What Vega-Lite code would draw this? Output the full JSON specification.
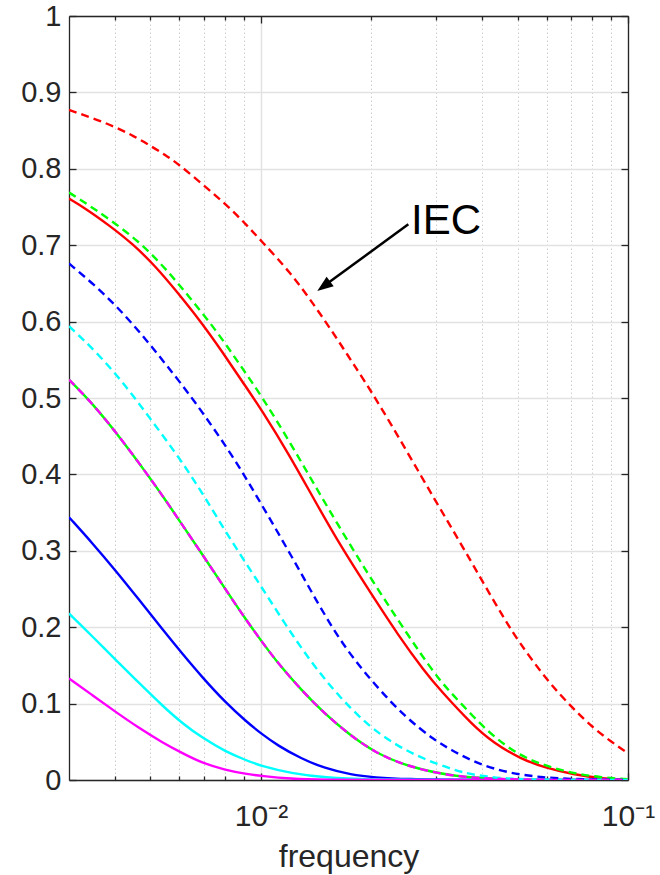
{
  "$schema": "https://vega.github.io/schema/vega-lite/v6.json",
  "width": 559,
  "height": 764,
  "autosize": {"type": "none"},
  "padding": {"left": 69, "top": 16, "right": 32, "bottom": 95},
  "background": "white",
  "config": {
    "view": {"stroke": null},
    "font": "Liberation Sans",
    "axis": {
      "domainColor": "#262626",
      "domainWidth": 1.3,
      "tickColor": "#262626",
      "tickWidth": 1.3,
      "labelColor": "#262626",
      "titleColor": "#262626",
      "labelFont": "Liberation Sans",
      "titleFont": "Liberation Sans",
      "labelFontWeight": "normal",
      "titleFontWeight": "normal",
      "labelOverlap": false,
      "labelFlush": false
    }
  },
  "datasets": {
    "solid": [
      {"curve": "red", "frequency": 0.003, "value": 0.761},
      {"curve": "red", "frequency": 0.00333, "value": 0.748},
      {"curve": "red", "frequency": 0.00386, "value": 0.726},
      {"curve": "red", "frequency": 0.00447, "value": 0.702},
      {"curve": "red", "frequency": 0.00517, "value": 0.672},
      {"curve": "red", "frequency": 0.00586, "value": 0.641},
      {"curve": "red", "frequency": 0.00686, "value": 0.600},
      {"curve": "red", "frequency": 0.00786, "value": 0.560},
      {"curve": "red", "frequency": 0.00891, "value": 0.521},
      {"curve": "red", "frequency": 0.01006, "value": 0.484},
      {"curve": "red", "frequency": 0.012, "value": 0.424},
      {"curve": "red", "frequency": 0.014, "value": 0.366},
      {"curve": "red", "frequency": 0.01654, "value": 0.305},
      {"curve": "red", "frequency": 0.01996, "value": 0.244},
      {"curve": "red", "frequency": 0.02361, "value": 0.190},
      {"curve": "red", "frequency": 0.02792, "value": 0.142},
      {"curve": "red", "frequency": 0.03074, "value": 0.118},
      {"curve": "red", "frequency": 0.03787, "value": 0.071},
      {"curve": "red", "frequency": 0.04296, "value": 0.049},
      {"curve": "red", "frequency": 0.05078, "value": 0.028},
      {"curve": "red", "frequency": 0.06003, "value": 0.0153},
      {"curve": "red", "frequency": 0.07095, "value": 0.0074},
      {"curve": "red", "frequency": 0.08388, "value": 0.002},
      {"curve": "red", "frequency": 0.1, "value": 0.0005},

      {"curve": "green", "frequency": 0.003, "value": 0.524},
      {"curve": "green", "frequency": 0.003475, "value": 0.493},
      {"curve": "green", "frequency": 0.004107, "value": 0.450},
      {"curve": "green", "frequency": 0.004856, "value": 0.403},
      {"curve": "green", "frequency": 0.005506, "value": 0.366},
      {"curve": "green", "frequency": 0.005984, "value": 0.340},
      {"curve": "green", "frequency": 0.006932, "value": 0.295},
      {"curve": "green", "frequency": 0.008022, "value": 0.249},
      {"curve": "green", "frequency": 0.009096, "value": 0.210},
      {"curve": "green", "frequency": 0.01006, "value": 0.181},
      {"curve": "green", "frequency": 0.01112, "value": 0.153},
      {"curve": "green", "frequency": 0.01287, "value": 0.118},
      {"curve": "green", "frequency": 0.0149, "value": 0.087},
      {"curve": "green", "frequency": 0.01725, "value": 0.061},
      {"curve": "green", "frequency": 0.0204, "value": 0.036},
      {"curve": "green", "frequency": 0.02514, "value": 0.0174},
      {"curve": "green", "frequency": 0.03357, "value": 0.0043},
      {"curve": "green", "frequency": 0.045, "value": 0.001},
      {"curve": "green", "frequency": 0.06, "value": 0},
      {"curve": "green", "frequency": 0.1, "value": 0},

      {"curve": "blue", "frequency": 0.003, "value": 0.344},
      {"curve": "blue", "frequency": 0.003475, "value": 0.310},
      {"curve": "blue", "frequency": 0.004022, "value": 0.274},
      {"curve": "blue", "frequency": 0.004656, "value": 0.236},
      {"curve": "blue", "frequency": 0.005393, "value": 0.197},
      {"curve": "blue", "frequency": 0.006113, "value": 0.165},
      {"curve": "blue", "frequency": 0.006932, "value": 0.134},
      {"curve": "blue", "frequency": 0.008022, "value": 0.101},
      {"curve": "blue", "frequency": 0.009096, "value": 0.077},
      {"curve": "blue", "frequency": 0.01006, "value": 0.060},
      {"curve": "blue", "frequency": 0.01112, "value": 0.045},
      {"curve": "blue", "frequency": 0.01287, "value": 0.028},
      {"curve": "blue", "frequency": 0.0149, "value": 0.0155},
      {"curve": "blue", "frequency": 0.01761, "value": 0.0068},
      {"curve": "blue", "frequency": 0.0204, "value": 0.0033},
      {"curve": "blue", "frequency": 0.025, "value": 0.001},
      {"curve": "blue", "frequency": 0.035, "value": 0},
      {"curve": "blue", "frequency": 0.1, "value": 0},

      {"curve": "cyan", "frequency": 0.003, "value": 0.218},
      {"curve": "cyan", "frequency": 0.003475, "value": 0.188},
      {"curve": "cyan", "frequency": 0.004022, "value": 0.157},
      {"curve": "cyan", "frequency": 0.004656, "value": 0.127},
      {"curve": "cyan", "frequency": 0.005393, "value": 0.097},
      {"curve": "cyan", "frequency": 0.006113, "value": 0.074},
      {"curve": "cyan", "frequency": 0.006932, "value": 0.055},
      {"curve": "cyan", "frequency": 0.008022, "value": 0.037},
      {"curve": "cyan", "frequency": 0.009096, "value": 0.026},
      {"curve": "cyan", "frequency": 0.01006, "value": 0.018},
      {"curve": "cyan", "frequency": 0.01209, "value": 0.0087},
      {"curve": "cyan", "frequency": 0.0149, "value": 0.003},
      {"curve": "cyan", "frequency": 0.02, "value": 0.0005},
      {"curve": "cyan", "frequency": 0.03, "value": 0},
      {"curve": "cyan", "frequency": 0.1, "value": 0},

      {"curve": "magenta", "frequency": 0.003, "value": 0.133},
      {"curve": "magenta", "frequency": 0.003475, "value": 0.111},
      {"curve": "magenta", "frequency": 0.004022, "value": 0.089},
      {"curve": "magenta", "frequency": 0.004656, "value": 0.068},
      {"curve": "magenta", "frequency": 0.005393, "value": 0.049},
      {"curve": "magenta", "frequency": 0.006113, "value": 0.035},
      {"curve": "magenta", "frequency": 0.006932, "value": 0.022},
      {"curve": "magenta", "frequency": 0.008022, "value": 0.013},
      {"curve": "magenta", "frequency": 0.009096, "value": 0.0079},
      {"curve": "magenta", "frequency": 0.01006, "value": 0.0052},
      {"curve": "magenta", "frequency": 0.012, "value": 0.0015},
      {"curve": "magenta", "frequency": 0.015, "value": 0.0002},
      {"curve": "magenta", "frequency": 0.02, "value": 0},
      {"curve": "magenta", "frequency": 0.1, "value": 0}
    ],
    "dashed": [
      {"curve": "red", "frequency": 0.003, "value": 0.877},
      {"curve": "red", "frequency": 0.0035, "value": 0.866},
      {"curve": "red", "frequency": 0.004, "value": 0.855},
      {"curve": "red", "frequency": 0.0045, "value": 0.843},
      {"curve": "red", "frequency": 0.005, "value": 0.830},
      {"curve": "red", "frequency": 0.0055, "value": 0.818},
      {"curve": "red", "frequency": 0.006, "value": 0.805},
      {"curve": "red", "frequency": 0.007, "value": 0.778},
      {"curve": "red", "frequency": 0.008, "value": 0.754},
      {"curve": "red", "frequency": 0.009, "value": 0.730},
      {"curve": "red", "frequency": 0.01, "value": 0.706},
      {"curve": "red", "frequency": 0.012, "value": 0.665},
      {"curve": "red", "frequency": 0.014, "value": 0.621},
      {"curve": "red", "frequency": 0.016, "value": 0.580},
      {"curve": "red", "frequency": 0.018, "value": 0.542},
      {"curve": "red", "frequency": 0.0204, "value": 0.502},
      {"curve": "red", "frequency": 0.025, "value": 0.430},
      {"curve": "red", "frequency": 0.03, "value": 0.364},
      {"curve": "red", "frequency": 0.035, "value": 0.310},
      {"curve": "red", "frequency": 0.04, "value": 0.261},
      {"curve": "red", "frequency": 0.045, "value": 0.219},
      {"curve": "red", "frequency": 0.05, "value": 0.183},
      {"curve": "red", "frequency": 0.06, "value": 0.131},
      {"curve": "red", "frequency": 0.07, "value": 0.096},
      {"curve": "red", "frequency": 0.08, "value": 0.069},
      {"curve": "red", "frequency": 0.09, "value": 0.050},
      {"curve": "red", "frequency": 0.1, "value": 0.035},

      {"curve": "green", "frequency": 0.003, "value": 0.769},
      {"curve": "green", "frequency": 0.00326, "value": 0.758},
      {"curve": "green", "frequency": 0.00387, "value": 0.734},
      {"curve": "green", "frequency": 0.00468, "value": 0.704},
      {"curve": "green", "frequency": 0.00551, "value": 0.669},
      {"curve": "green", "frequency": 0.00639, "value": 0.632},
      {"curve": "green", "frequency": 0.00754, "value": 0.589},
      {"curve": "green", "frequency": 0.00872, "value": 0.545},
      {"curve": "green", "frequency": 0.01006, "value": 0.502},
      {"curve": "green", "frequency": 0.012, "value": 0.442},
      {"curve": "green", "frequency": 0.014, "value": 0.386},
      {"curve": "green", "frequency": 0.01654, "value": 0.327},
      {"curve": "green", "frequency": 0.01956, "value": 0.270},
      {"curve": "green", "frequency": 0.02313, "value": 0.216},
      {"curve": "green", "frequency": 0.02733, "value": 0.164},
      {"curve": "green", "frequency": 0.03074, "value": 0.130},
      {"curve": "green", "frequency": 0.03357, "value": 0.110},
      {"curve": "green", "frequency": 0.03787, "value": 0.083},
      {"curve": "green", "frequency": 0.04296, "value": 0.057},
      {"curve": "green", "frequency": 0.05078, "value": 0.0315},
      {"curve": "green", "frequency": 0.06003, "value": 0.018},
      {"curve": "green", "frequency": 0.07095, "value": 0.0087},
      {"curve": "green", "frequency": 0.08388, "value": 0.0035},
      {"curve": "green", "frequency": 0.1, "value": 0.001},

      {"curve": "blue", "frequency": 0.003, "value": 0.676},
      {"curve": "blue", "frequency": 0.00356, "value": 0.646},
      {"curve": "blue", "frequency": 0.00412, "value": 0.616},
      {"curve": "blue", "frequency": 0.00478, "value": 0.581},
      {"curve": "blue", "frequency": 0.00553, "value": 0.543},
      {"curve": "blue", "frequency": 0.00653, "value": 0.499},
      {"curve": "blue", "frequency": 0.00837, "value": 0.425},
      {"curve": "blue", "frequency": 0.0100, "value": 0.362},
      {"curve": "blue", "frequency": 0.01209, "value": 0.294},
      {"curve": "blue", "frequency": 0.01429, "value": 0.231},
      {"curve": "blue", "frequency": 0.0169, "value": 0.173},
      {"curve": "blue", "frequency": 0.0204, "value": 0.125},
      {"curve": "blue", "frequency": 0.02462, "value": 0.083},
      {"curve": "blue", "frequency": 0.02972, "value": 0.052},
      {"curve": "blue", "frequency": 0.0336, "value": 0.037},
      {"curve": "blue", "frequency": 0.0387, "value": 0.022},
      {"curve": "blue", "frequency": 0.0467, "value": 0.0096},
      {"curve": "blue", "frequency": 0.0576, "value": 0.0035},
      {"curve": "blue", "frequency": 0.0709, "value": 0.001},
      {"curve": "blue", "frequency": 0.1, "value": 0},

      {"curve": "cyan", "frequency": 0.003, "value": 0.594},
      {"curve": "cyan", "frequency": 0.00362, "value": 0.557},
      {"curve": "cyan", "frequency": 0.00428, "value": 0.516},
      {"curve": "cyan", "frequency": 0.00496, "value": 0.475},
      {"curve": "cyan", "frequency": 0.00586, "value": 0.428},
      {"curve": "cyan", "frequency": 0.00665, "value": 0.389},
      {"curve": "cyan", "frequency": 0.00754, "value": 0.346},
      {"curve": "cyan", "frequency": 0.00872, "value": 0.297},
      {"curve": "cyan", "frequency": 0.01006, "value": 0.252},
      {"curve": "cyan", "frequency": 0.0116, "value": 0.205},
      {"curve": "cyan", "frequency": 0.0137, "value": 0.154},
      {"curve": "cyan", "frequency": 0.0162, "value": 0.111},
      {"curve": "cyan", "frequency": 0.01956, "value": 0.071},
      {"curve": "cyan", "frequency": 0.02361, "value": 0.044},
      {"curve": "cyan", "frequency": 0.0279, "value": 0.027},
      {"curve": "cyan", "frequency": 0.0336, "value": 0.013},
      {"curve": "cyan", "frequency": 0.0379, "value": 0.0065},
      {"curve": "cyan", "frequency": 0.0467, "value": 0.0015},
      {"curve": "cyan", "frequency": 0.06, "value": 0},
      {"curve": "cyan", "frequency": 0.1, "value": 0},

      {"curve": "magenta", "frequency": 0.003, "value": 0.524},
      {"curve": "magenta", "frequency": 0.003475, "value": 0.493},
      {"curve": "magenta", "frequency": 0.004107, "value": 0.450},
      {"curve": "magenta", "frequency": 0.004856, "value": 0.403},
      {"curve": "magenta", "frequency": 0.005506, "value": 0.366},
      {"curve": "magenta", "frequency": 0.005984, "value": 0.340},
      {"curve": "magenta", "frequency": 0.006932, "value": 0.295},
      {"curve": "magenta", "frequency": 0.008022, "value": 0.249},
      {"curve": "magenta", "frequency": 0.009096, "value": 0.210},
      {"curve": "magenta", "frequency": 0.01006, "value": 0.181},
      {"curve": "magenta", "frequency": 0.01112, "value": 0.153},
      {"curve": "magenta", "frequency": 0.01287, "value": 0.118},
      {"curve": "magenta", "frequency": 0.0149, "value": 0.087},
      {"curve": "magenta", "frequency": 0.01725, "value": 0.061},
      {"curve": "magenta", "frequency": 0.0204, "value": 0.036},
      {"curve": "magenta", "frequency": 0.02514, "value": 0.0174},
      {"curve": "magenta", "frequency": 0.03357, "value": 0.0043},
      {"curve": "magenta", "frequency": 0.045, "value": 0.001},
      {"curve": "magenta", "frequency": 0.06, "value": 0},
      {"curve": "magenta", "frequency": 0.1, "value": 0}
    ],
    "arrow": [
      {"fromFrequency": 0.02521, "fromValue": 0.7274, "toFrequency": 0.01497, "toValue": 0.6478}
    ],
    "arrowhead": [
      {"frequency": 0.01424, "value": 0.640}
    ],
    "note": [
      {"frequency": 0.02564, "value": 0.7143, "label": "IEC"}
    ]
  },
  "resolve": {"axis": {"x": "independent", "y": "independent"}},
  "layer": [
    {
      "data": {"name": "solid"},
      "mark": {"type": "line", "strokeWidth": 2.4, "interpolate": "basis", "clip": true},
      "encoding": {
        "x": {
          "field": "frequency", "type": "quantitative",
          "scale": {"type": "log", "domain": [0.003, 0.1], "nice": false},
          "axis": {
            "orient": "bottom",
            "values": [0.01, 0.1],
            "grid": true, "gridColor": "#e2e2e2", "gridWidth": 1.5,
            "tickSize": -7,
            "labelExpr": "datum.value == 0.01 ? '10⁻²' : '10⁻¹'",
            "labelFontSize": 30,
            "labelBaseline": "alphabetic",
            "labelPadding": 52,
            "title": "frequency",
            "titleFontSize": 32,
            "titleBaseline": "alphabetic",
            "titleY": 86
          }
        },
        "y": {
          "field": "value", "type": "quantitative",
          "scale": {"domain": [0, 1], "nice": false, "zero": false},
          "axis": {
            "orient": "left",
            "values": [0, 0.1, 0.2, 0.3, 0.4, 0.5, 0.6, 0.7, 0.8, 0.9, 1],
            "format": "~g",
            "grid": true, "gridColor": "#e2e2e2", "gridWidth": 1.5,
            "tickSize": -7,
            "labelFontSize": 29,
            "labelPadding": 15,
            "title": null
          }
        },
        "color": {
          "field": "curve", "type": "nominal",
          "scale": {"domain": ["red", "green", "blue", "cyan", "magenta"], "range": ["#ff0000", "#00ff00", "#0000ff", "#00ffff", "#ff00ff"]},
          "legend": null
        }
      }
    },
    {
      "data": {"name": "dashed"},
      "mark": {"type": "line", "strokeWidth": 2.4, "strokeDash": [8, 5], "interpolate": "basis", "clip": true},
      "encoding": {
        "x": {
          "field": "frequency", "type": "quantitative",
          "axis": {
            "orient": "top",
            "values": [0.004, 0.005, 0.006, 0.007, 0.008, 0.009, 0.01, 0.02, 0.03, 0.04, 0.05, 0.06, 0.07, 0.08, 0.09, 0.1],
            "grid": false,
            "labels": false,
            "tickSize": {"condition": {"test": "datum.value == 0.01 || datum.value == 0.1", "value": -7}, "value": -4},
            "title": null
          }
        },
        "y": {
          "field": "value", "type": "quantitative",
          "axis": {
            "orient": "right",
            "values": [0, 0.1, 0.2, 0.3, 0.4, 0.5, 0.6, 0.7, 0.8, 0.9, 1],
            "grid": false,
            "labels": false,
            "tickSize": -7,
            "title": null
          }
        },
        "color": {"field": "curve", "type": "nominal", "legend": null}
      }
    },
    {
      "data": {"name": "arrow"},
      "mark": {"type": "rule", "color": "#000000", "strokeWidth": 2.5},
      "encoding": {
        "x": {
          "field": "fromFrequency", "type": "quantitative",
          "axis": {
            "orient": "bottom",
            "values": [0.004, 0.005, 0.006, 0.007, 0.008, 0.009, 0.02, 0.03, 0.04, 0.05, 0.06, 0.07, 0.08, 0.09],
            "grid": true, "gridColor": "#cfcfcf", "gridWidth": 1, "gridDash": [1.5, 2.5],
            "labels": false,
            "domain": false,
            "tickSize": -4,
            "title": null
          }
        },
        "y": {"field": "fromValue", "type": "quantitative", "axis": null},
        "x2": {"field": "toFrequency"},
        "y2": {"field": "toValue"}
      }
    },
    {
      "data": {"name": "arrowhead"},
      "mark": {"type": "point", "shape": "M0,0L-0.75,2L0.75,2Z", "size": 256, "angle": 233.6, "filled": true, "color": "#000000", "opacity": 1, "strokeWidth": 0},
      "encoding": {
        "x": {"field": "frequency", "type": "quantitative", "axis": null},
        "y": {"field": "value", "type": "quantitative", "axis": null}
      }
    },
    {
      "data": {"name": "note"},
      "mark": {"type": "text", "align": "left", "baseline": "alphabetic", "fontSize": 42, "font": "Liberation Sans", "color": "#000000"},
      "encoding": {
        "x": {"field": "frequency", "type": "quantitative", "axis": null},
        "y": {"field": "value", "type": "quantitative", "axis": null},
        "text": {"field": "label"}
      }
    }
  ]
}
